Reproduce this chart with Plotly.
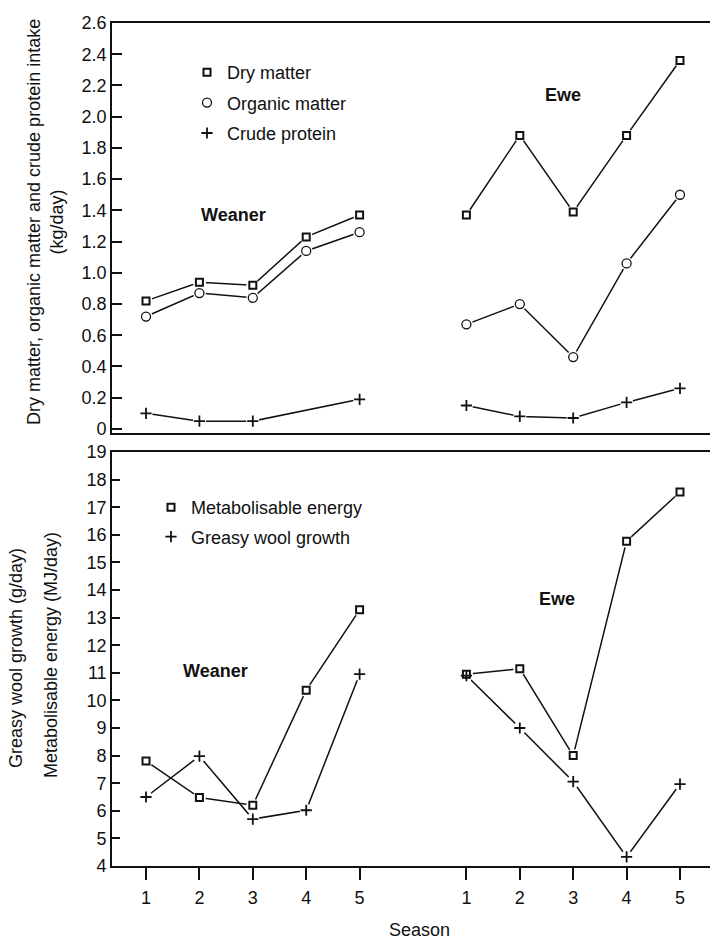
import plotly.graph_objects as go

# ---------------- data ----------------
seasons = [1, 2, 3, 4, 5]
season_labels = ["1", "2", "3", "4", "5"]

# intake (kg/day)
weaner_dm = [0.82, 0.94, 0.92, 1.23, 1.37]
weaner_om = [0.72, 0.87, 0.84, 1.14, 1.26]
weaner_cp = [0.10, 0.05, 0.05, None, 0.19]
ewe_dm = [1.37, 1.88, 1.39, 1.88, 2.36]
ewe_om = [0.67, 0.80, 0.46, 1.06, 1.50]
ewe_cp = [0.15, 0.08, 0.07, 0.17, 0.26]

# metabolisable energy (MJ/day) and greasy wool growth (g/day)
weaner_me = [7.80, 6.48, 6.20, 10.37, 13.28]
weaner_gw = [6.50, 7.98, 5.70, 6.02, 10.95]
ewe_me = [10.95, 11.15, 8.00, 15.77, 17.55]
ewe_gw = [10.90, 9.00, 7.06, 4.33, 6.97]

top_ticks = [0, 0.2, 0.4, 0.6, 0.8, 1.0, 1.2, 1.4, 1.6, 1.8, 2.0, 2.2, 2.4, 2.6]
top_ticktext = ["0", "0.2", "0.4", "0.6", "0.8", "1.0", "1.2", "1.4", "1.6",
                "1.8", "2.0", "2.2", "2.4", "2.6"]
bottom_ticks = list(range(4, 20))

# ---------------- layout helpers ----------------
EWE_OFFSET = 6
weaner_x = seasons
ewe_x = [s + EWE_OFFSET for s in seasons]

FONT = "Liberation Sans, Arial, Helvetica, sans-serif"
INK = "#111111"
W, H = 710, 939
L, R, T, B = 112, 0, 23, 73
PLOT_H = H - T - B

fig = go.Figure()

styles = {
    "square": dict(symbol="square-open", size=7, line=dict(width=2, color=INK)),
    "circle": dict(symbol="circle-open", size=9, line=dict(width=1.3, color=INK)),
    "cross": dict(symbol="cross-thin-open", size=8, line=dict(width=1.8, color=INK)),
}

series = [
    # (x, y, style, xaxis, yaxis, name, legend, showlegend)
    (weaner_x, weaner_dm, "square", "x2", "y2", "Dry matter", "legend", True),
    (ewe_x, ewe_dm, "square", "x2", "y2", "Dry matter", "legend", False),
    (weaner_x, weaner_om, "circle", "x2", "y2", "Organic matter", "legend", True),
    (ewe_x, ewe_om, "circle", "x2", "y2", "Organic matter", "legend", False),
    (weaner_x, weaner_cp, "cross", "x2", "y2", "Crude protein", "legend", True),
    (ewe_x, ewe_cp, "cross", "x2", "y2", "Crude protein", "legend", False),
    (weaner_x, weaner_me, "square", "x", "y", "Metabolisable energy", "legend2", True),
    (ewe_x, ewe_me, "square", "x", "y", "Metabolisable energy", "legend2", False),
    (weaner_x, weaner_gw, "cross", "x", "y", "Greasy wool growth", "legend2", True),
    (ewe_x, ewe_gw, "cross", "x", "y", "Greasy wool growth", "legend2", False),
]

# connecting lines
for x, y, st, xa, ya, name, lg, sl in series:
    fig.add_trace(go.Scatter(x=x, y=y, xaxis=xa, yaxis=ya, mode="lines",
                             connectgaps=True, line=dict(color=INK, width=1.5),
                             showlegend=False, hoverinfo="skip"))
# white gaps around the points
for x, y, st, xa, ya, name, lg, sl in series:
    fig.add_trace(go.Scatter(x=x, y=y, xaxis=xa, yaxis=ya, mode="markers",
                             marker=dict(symbol="circle", size=13, color="white"),
                             showlegend=False, hoverinfo="skip"))
# point symbols
for i, (x, y, st, xa, ya, name, lg, sl) in enumerate(series):
    fig.add_trace(go.Scatter(x=x, y=y, xaxis=xa, yaxis=ya, mode="markers",
                             marker=dict(color=INK, **styles[st]), name=name,
                             legend=lg, legendgroup=f"g{i}", showlegend=sl))

xrange = [0.363, 11.562]
axis_common = dict(showline=True, linecolor=INK, linewidth=1.6, showgrid=False,
                   zeroline=False, automargin=False,
                   tickfont=dict(family=FONT, size=18, color=INK))

top_lo = (H - B - 433) / PLOT_H
bot_hi = (H - B - 452) / PLOT_H

fig.update_layout(
    width=W, height=H,
    margin=dict(l=L, r=R, t=T, b=B, autoexpand=False),
    paper_bgcolor="white", plot_bgcolor="white",
    font=dict(family=FONT, size=18, color=INK),
    xaxis=dict(axis_common, range=xrange, domain=[0, 1], anchor="y", mirror=True,
               tickmode="array", tickvals=weaner_x + ewe_x,
               ticktext=season_labels + season_labels,
               ticks="outside", ticklen=12, tickwidth=1.5, tickcolor=INK,
               ticklabelstandoff=3),
    xaxis2=dict(axis_common, range=xrange, domain=[0, 1], anchor="y2", mirror=True,
                matches="x", showticklabels=False, ticks=""),
    yaxis=dict(axis_common, range=[4, 19], domain=[0, bot_hi], anchor="x",
               tickmode="array", tickvals=bottom_ticks,
               ticks="inside", ticklen=8, tickwidth=1.5, tickcolor=INK),
    yaxis2=dict(axis_common, range=[-0.026, 2.6], domain=[top_lo, 1], anchor="x2",
                tickmode="array", tickvals=top_ticks, ticktext=top_ticktext,
                ticks="inside", ticklen=10, tickwidth=1.5, tickcolor=INK),
    legend=dict(x=(187 - L) / (W - L), xanchor="left",
                y=(H - B - 54) / PLOT_H, yanchor="top",
                bgcolor="rgba(0,0,0,0)", tracegroupgap=4,
                font=dict(family=FONT, size=18, color=INK)),
    legend2=dict(x=(151 - L) / (W - L), xanchor="left",
                 y=(H - B - 489) / PLOT_H, yanchor="top",
                 bgcolor="rgba(0,0,0,0)", tracegroupgap=3,
                 font=dict(family=FONT, size=18, color=INK)),
)

def px_x(px):
    return (px - L) / (W - L)

def px_y(py):
    return (H - B - py) / PLOT_H

annotations = [
    dict(text="<b>Weaner</b>", x=px_x(233), y=px_y(215)),
    dict(text="<b>Ewe</b>", x=px_x(563), y=px_y(95)),
    dict(text="<b>Weaner</b>", x=px_x(215), y=px_y(671)),
    dict(text="<b>Ewe</b>", x=px_x(557), y=px_y(599)),
    dict(text="Dry matter, organic matter and crude protein intake<br>(kg/day)",
         x=px_x(45), y=px_y(222), textangle=-90),
    dict(text="Greasy wool growth (g/day)", x=px_x(16), y=px_y(658), textangle=-90),
    dict(text="Metabolisable energy (MJ/day)", x=px_x(51), y=px_y(655), textangle=-90),
    dict(text="Season", x=px_x(419), y=px_y(930)),
]
for a in annotations:
    fig.add_annotation(xref="paper", yref="paper", showarrow=False,
                       xanchor="center", yanchor="middle",
                       font=dict(family=FONT, size=18, color=INK), **a)

fig.write_html("out.html",
               config={"displayModeBar": False},
               post_script="document.body.style.margin='0';"
                           "document.body.style.overflow='hidden';")
